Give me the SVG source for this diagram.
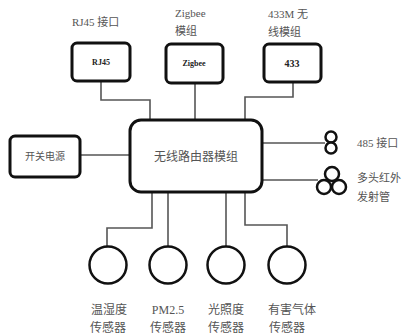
<svg xmlns="http://www.w3.org/2000/svg" width="413" height="335" viewBox="0 0 413 335">
<style>
.box{fill:#fff;stroke:#111;stroke-width:3}
.sym{fill:#fff;stroke:#111;stroke-width:2.5}
.ln{fill:none;stroke:#555;stroke-width:1.6}
text{font-family:"Liberation Serif","Noto Sans CJK SC",serif;fill:#555;font-size:11px}
.in{font-size:8px;fill:#222;text-anchor:middle;font-weight:bold}
.mid{text-anchor:middle}
.lg{font-size:12px}
</style>
<rect width="413" height="335" fill="#fff"/>
<g id="connectors">
<polyline class="ln" points="101,81 101,100 150,100 150,120"/>
<polyline class="ln" points="195,83 195,120"/>
<polyline class="ln" points="293,82 293,97 245,97 245,120"/>
<polyline class="ln" points="80,155 130,155"/>
<polyline class="ln" points="262,143 325,143"/>
<polyline class="ln" points="262,180 318,180"/>
<polyline class="ln" points="152,192 152,228 107,228 107,246"/>
<polyline class="ln" points="168,192 168,246"/>
<polyline class="ln" points="226,192 226,246"/>
<polyline class="ln" points="245,192 245,225 287,225 287,246"/>
</g>
<g id="rj45">
<rect class="box" x="72" y="43" width="58" height="38" rx="5"/>
<text class="in" x="101" y="65">RJ45</text>
<text x="72" y="26">RJ45 接口</text>
</g>
<g id="zigbee">
<rect class="box" x="166" y="44" width="57" height="39" rx="5"/>
<text class="in" x="194" y="66">Zigbee</text>
<text x="175" y="17">Zigbee</text>
<text x="175" y="35">模组</text>
</g>
<g id="m433">
<rect class="box" x="264" y="44" width="57" height="38" rx="5"/>
<text class="in" x="292" y="67" style="font-size:10px">433</text>
<text x="268" y="18">433M 无</text>
<text x="268" y="36">线模组</text>
</g>
<g id="router">
<rect class="box" x="130" y="120" width="132" height="72" rx="11"/>
<text class="mid lg" x="196" y="161">无线路由器模组</text>
</g>
<g id="power">
<rect class="box" x="10" y="136" width="70" height="41" rx="5"/>
<text class="mid" x="45" y="160" style="font-size:10px">开关电源</text>
</g>
<g id="rs485">
<circle class="sym" cx="331" cy="137" r="5.5"/>
<circle class="sym" cx="331" cy="148" r="5.5"/>
<text x="357" y="147">485 接口</text>
</g>
<g id="infrared">
<circle class="sym" cx="332" cy="174" r="7"/>
<circle class="sym" cx="324" cy="187" r="7"/>
<circle class="sym" cx="339" cy="187" r="7"/>
<text x="357" y="182">多头红外</text>
<text x="357" y="201">发射管</text>
</g>
<g id="s1">
<circle class="sym" cx="108" cy="265" r="18.5"/>
<text class="mid lg" x="109" y="314">温湿度</text>
<text class="mid lg" x="108" y="332">传感器</text>
</g>
<g id="s2">
<circle class="sym" cx="168" cy="265" r="18.5"/>
<text class="mid lg" x="168" y="314">PM2.5</text>
<text class="mid lg" x="168" y="332">传感器</text>
</g>
<g id="s3">
<circle class="sym" cx="226" cy="265" r="18.5"/>
<text class="mid lg" x="226" y="314">光照度</text>
<text class="mid lg" x="226" y="332">传感器</text>
</g>
<g id="s4">
<circle class="sym" cx="287" cy="265" r="18.5"/>
<text class="mid lg" x="292" y="314">有害气体</text>
<text class="mid lg" x="287" y="332">传感器</text>
</g>
</svg>
